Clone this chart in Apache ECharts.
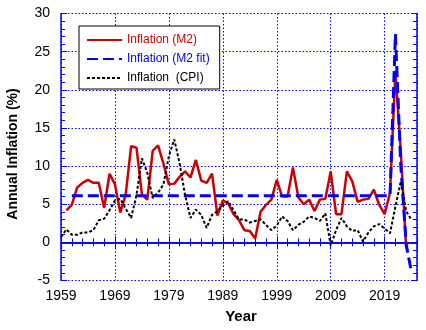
<!DOCTYPE html>
<html><head><meta charset="utf-8">
<script src="https://cdn.jsdelivr.net/npm/echarts@6/dist/echarts.min.js"></script>
<style>html,body{margin:0;padding:0;background:#fff}#c{width:426px;height:330px}</style>
</head><body><div id="c"></div>
<script>
// ---- data ----
const m2Years = [1960,1961,1962,1963,1964,1965,1966,1967,1968,1969,
  1970,1971,1972,1973,1974,1975,1976,1977,1978,1979,
  1980,1981,1982,1983,1984,1985,1986,1987,1988,1989,
  1990,1991,1992,1993,1994,1995,1996,1997,1998,1999,
  2000,2001,2002,2003,2004,2005,2006,2007,2008,2009,
  2010,2011,2012,2013,2014,2015,2016,2017,2018,2019,
  2020,2021,2022,2023];
const m2Values = [4.2,4.9,7.2,7.8,8.2,7.8,7.8,4.5,9.0,7.6,
  3.9,6.3,12.6,12.4,6.3,5.6,12.0,12.7,10.3,7.6,
  7.7,8.6,9.3,8.5,10.8,8.1,7.8,9.0,3.5,5.5,
  5.1,3.7,2.9,1.6,1.5,0.5,4.0,4.9,5.6,8.2,
  6.0,6.0,9.8,5.9,5.0,5.6,4.1,5.6,5.7,9.3,
  3.7,3.7,9.3,8.0,5.3,5.6,5.7,6.9,4.9,3.7,
  6.5,22.5,11.8,-0.8];
const fitYears = [1961,2020,2021,2022,2023,2024];
const fitValues = [6.1,6.1,27.3,10.0,-0.3,-4.0];
const cpiYears = [1959,1960,1961,1962,1963,1964,1965,1966,1967,1968,1969,
  1970,1971,1972,1973,1974,1975,1976,1977,1978,1979,
  1980,1981,1982,1983,1984,1985,1986,1987,1988,1989,
  1990,1991,1992,1993,1994,1995,1996,1997,1998,1999,
  2000,2001,2002,2003,2004,2005,2006,2007,2008,2009,
  2010,2011,2012,2013,2014,2015,2016,2017,2018,2019,
  2020,2021,2022,2023,2024];
const cpiValues = [0.7,1.7,1.0,1.0,1.3,1.3,1.6,2.9,3.1,4.2,5.5,
  5.7,4.4,3.2,6.2,11.0,9.1,5.8,6.5,7.6,11.3,
  13.5,10.3,6.2,3.2,4.3,3.6,1.9,3.6,4.1,4.8,
  5.4,4.2,3.0,3.0,2.6,2.8,3.0,2.3,1.6,2.2,
  3.4,2.8,1.6,2.3,2.7,3.4,3.2,2.8,3.8,-0.4,
  1.6,3.2,2.1,1.5,1.6,0.1,1.3,2.1,2.4,1.8,
  1.2,4.7,8.0,4.1,2.9];
const seriesNames = ['Inflation (M2)','Inflation (M2 fit)','Inflation  (CPI)'];
const xMin = 1959, xMax = 2025, xStep = 10;
const yMin = -5, yMax = 30, yStep = 5;

const pairs = (xs, ys) => xs.map((x, i) => [x, ys[i]]);
const FONT = '"Liberation Sans", Arial, sans-serif';
const FRAME = '#0000ff';
const RED = '#cc0000', BLUE = '#0000ff', BLACK = '#000000';

const baseX = {
  type: 'value', min: xMin, max: xMax, interval: xStep,
  axisLine: { show: true, lineStyle: { color: FRAME, width: 1.5 } },
  axisTick: { show: true, inside: true, length: 6, lineStyle: { color: FRAME, width: 1 } },
  minorTick: { show: true, splitNumber: 5, length: 4, lineStyle: { color: FRAME, width: 1 } },
};
const baseY = {
  type: 'value', min: yMin, max: yMax, interval: yStep,
  axisLine: { show: true, lineStyle: { color: FRAME, width: 1.5 } },
  axisTick: { show: true, inside: true, length: 6, lineStyle: { color: FRAME, width: 1 } },
  minorTick: { show: true, splitNumber: 5, length: 4, lineStyle: { color: FRAME, width: 1 } },
};

const chart = echarts.init(document.getElementById('c'), null, { renderer: 'canvas' });
chart.setOption({
  animation: false,
  backgroundColor: '#fff',
  grid: { left: 61, right: 9, top: 13.5, bottom: 49.5, containLabel: false },
  xAxis: [
    Object.assign({}, baseX, {
      position: 'bottom',
      axisLabel: { show: true, color: '#000', fontSize: 14, fontFamily: FONT, margin: 9, showMaxLabel: false, formatter: v => String(v) },
      splitLine: { show: true, lineStyle: { color: FRAME, type: [1.5, 2], width: 1 } }
    }),
    Object.assign({}, baseX, {
      position: 'top',
      axisLabel: { show: false },
      splitLine: { show: false }
    })
  ],
  yAxis: [
    Object.assign({}, baseY, {
      position: 'left',
      axisLabel: { show: true, color: '#000', fontSize: 14, fontFamily: FONT, margin: 11 },
      splitLine: { show: true, lineStyle: { color: FRAME, type: [1.5, 2], width: 1 } }
    }),
    Object.assign({}, baseY, {
      position: 'right',
      axisLabel: { show: false },
      splitLine: { show: false }
    })
  ],
  legend: {
    orient: 'vertical', left: 79, top: 26,
    padding: [8, 10, 5, 7], itemGap: 7, itemWidth: 35, itemHeight: 12,
    borderColor: '#000', borderWidth: 1, backgroundColor: '#fff',
    selectedMode: false,
    itemStyle: { color: 'rgba(0,0,0,0)', borderWidth: 0, opacity: 0 },
    textStyle: { fontSize: 12, fontFamily: FONT },
    data: [
      { name: seriesNames[0], textStyle: { color: RED } },
      { name: seriesNames[1], textStyle: { color: BLUE } },
      { name: seriesNames[2], textStyle: { color: BLACK } }
    ]
  },
  graphic: [
    { type: 'text', x: 241, y: 317, style: { text: 'Year', font: 'bold 15px ' + FONT, fill: '#000', align: 'center', verticalAlign: 'middle' } },
    { type: 'text', x: 13, y: 154, rotation: Math.PI / 2, style: { text: 'Annual Inflation (%)', font: 'bold 14px ' + FONT, fill: '#000', align: 'center', verticalAlign: 'middle' } }
  ],
  series: [
    { name: seriesNames[0], type: 'line', xAxisIndex: 0, yAxisIndex: 0, data: pairs(m2Years, m2Values),
      showSymbol: false, symbol: 'none', lineStyle: { color: RED, width: 2.5 }, itemStyle: { color: RED }, z: 2 },
    { name: seriesNames[1], type: 'line', xAxisIndex: 0, yAxisIndex: 0, data: pairs(fitYears, fitValues),
      showSymbol: false, symbol: 'none', lineStyle: { color: BLUE, width: 3, type: [11, 5] }, itemStyle: { color: BLUE }, z: 3 },
    { name: seriesNames[2], type: 'line', xAxisIndex: 0, yAxisIndex: 0, data: pairs(cpiYears, cpiValues),
      showSymbol: false, symbol: 'none', lineStyle: { color: BLACK, width: 2, type: [3, 2] }, itemStyle: { color: BLACK }, z: 4 }
  ]
});
</script>
</body></html>
